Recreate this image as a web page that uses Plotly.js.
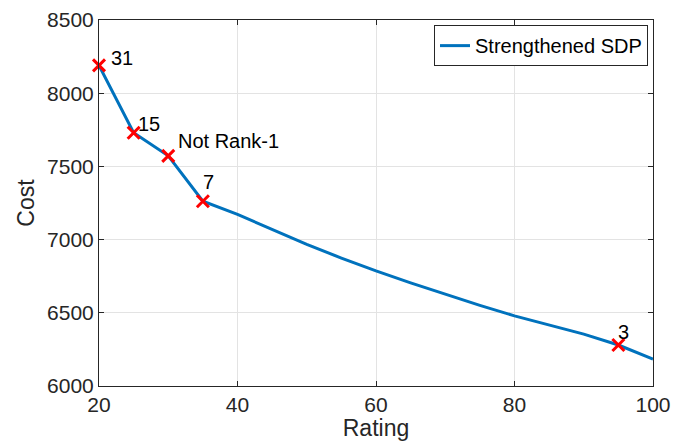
<!DOCTYPE html>
<html>
<head>
<meta charset="utf-8">
<script src="https://cdn.plot.ly/plotly-3.0.1.min.js"></script>
<style>html,body{margin:0;padding:0;background:#fff;}#chart{width:685px;height:441px;}</style>
</head>
<body>
<div id="chart"></div>
<script>
// Data
const rating = [20, 25, 30, 35, 40, 45, 50, 55, 60, 65, 70, 75, 80, 85, 90, 95, 100];
const cost = [8190, 7730, 7572, 7262, 7172, 7067, 6967, 6874, 6786, 6704, 6627, 6551, 6479, 6414, 6354, 6280, 6184];
const markRating = [20, 25, 30, 35, 95];
const markCost = [8190, 7730, 7572, 7262, 6280];
const markLabels = ["31", "15", "Not Rank-1", "7", "3"];
const seriesName = "Strengthened SDP";
const xTicks = [20, 40, 60, 80, 100];
const yTicks = [6000, 6500, 7000, 7500, 8000, 8500];

const labelShift = [[10, 7], [2, 9], [8, 15], [-2, 19], [-2, 13]];

const font = "Liberation Sans, Arial, Helvetica, sans-serif";
const traces = [
  {
    x: rating, y: cost, type: "scatter", mode: "lines", name: seriesName,
    line: {color: "#0072BD", width: 3}
  },
  {
    x: markRating, y: markCost, type: "scatter", mode: "markers", showlegend: false,
    cliponaxis: false,
    marker: {symbol: "x-thin", size: 12, line: {color: "#FF0000", width: 3}, color: "#FF0000"}
  }
];

const annotations = markLabels.map((t, i) => ({
  x: markRating[i], y: markCost[i], xref: "x", yref: "y", text: t, showarrow: false,
  xanchor: "left", yanchor: "middle", xshift: labelShift[i][0], yshift: labelShift[i][1],
  font: {family: font, size: 20, color: "#000"}
}));

const axisCommon = {
  showline: true, linecolor: "#262626", linewidth: 1, mirror: "ticks",
  ticks: "inside", ticklen: 5, tickwidth: 1, tickcolor: "#262626",
  showgrid: true, gridcolor: "#E3E3E3", gridwidth: 1, zeroline: false,
  tickfont: {family: font, size: 21, color: "#262626"}
};

const layout = {
  width: 685, height: 441,
  margin: {l: 99, r: 32, t: 20, b: 55},
  paper_bgcolor: "#fff", plot_bgcolor: "#fff",
  xaxis: Object.assign({}, axisCommon, {
    range: [20, 100], tickvals: xTicks, ticktext: xTicks.map(String),
    title: {text: "Rating", font: {family: font, size: 23, color: "#262626"}, standoff: 4}
  }),
  yaxis: Object.assign({}, axisCommon, {
    range: [6000, 8500], tickvals: yTicks, ticktext: yTicks.map(String),
    title: {text: "Cost", font: {family: font, size: 23, color: "#262626"}, standoff: 6}
  }),
  showlegend: true,
  legend: {
    x: 0.991, y: 0.986, xanchor: "right", yanchor: "top",
    bgcolor: "#fff", bordercolor: "#262626", borderwidth: 1,
    font: {family: font, size: 20, color: "#000"}
  },
  annotations: annotations
};

Plotly.newPlot("chart", traces, layout, {displayModeBar: false, staticPlot: true});
</script>
</body>
</html>
